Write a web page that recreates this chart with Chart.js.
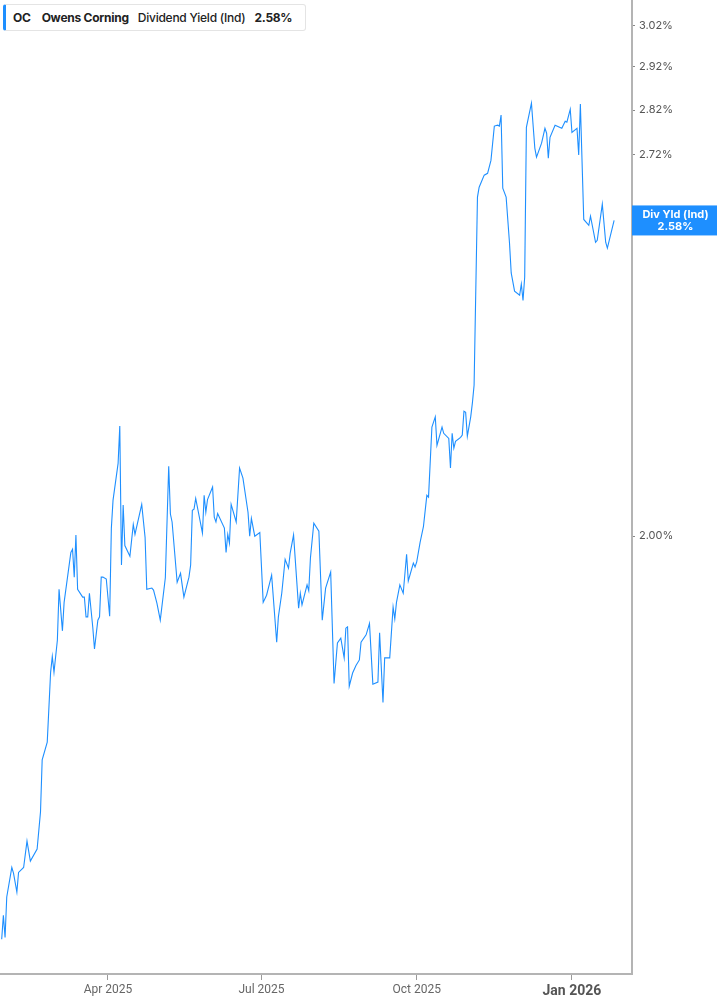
<!DOCTYPE html>
<html>
<head>
<meta charset="utf-8">
<script src="https://cdn.jsdelivr.net/npm/chart.js@4.4.1/dist/chart.umd.min.js"></script>
<style>
  html, body { margin: 0; padding: 0; background: #fff; }
  #wrap { position: relative; width: 717px; height: 1005px; }
  #legendBox {
    position: absolute; left: 3px; top: 4px; height: 25px; width: 292px;
    border: 1px solid #e4e4e4; border-left: 3px solid #1e8fff; border-radius: 3px;
    background: #fff; font-family: Inter, 'Noto Sans', sans-serif; font-size: 12px;
    color: #222; line-height: 25px; white-space: nowrap; box-sizing: content-box;
    padding-left: 7px; letter-spacing: -0.25px;
  }
  #legendBox span { margin-right: 9px; }
</style>
</head>
<body>
<div id="wrap">
  <canvas id="chart" width="717" height="1005"></canvas>
  <div id="legendBox"><span style="font-weight:700">OC</span><span style="font-weight:700;margin-left:2px">Owens Corning</span><span style="font-weight:500">Dividend Yield (Ind)</span><span style="font-weight:700">2.58%</span></div>
</div>
<script>
// days counted from 1 Jan 2025
const days = [27, 28, 29, 30, 33, 34, 36, 37, 40, 42, 44, 48, 50, 51, 54, 56, 57, 58, 60, 61,
  63, 64, 68, 69, 70, 71, 72, 75, 76, 77, 78, 79, 81, 82, 84, 85, 86, 87, 89, 91,
  92, 93, 96, 97, 98, 99, 100, 103, 105, 106, 110, 112, 113, 116, 117, 119, 121, 124, 126, 127,
  128, 131, 133, 135, 138, 139, 140, 141, 142, 146, 147, 148, 149, 152, 153, 154, 155, 159, 160, 161,
  162, 163, 166, 168, 170, 173, 174, 175, 177, 180, 182, 184, 187, 190, 191, 193, 195, 197, 198, 200,
  203, 204, 205, 208, 209, 210, 212, 215, 217, 219, 222, 224, 226, 228, 230, 231, 232, 233, 235, 237,
  239, 240, 243, 245, 247, 250, 251, 253, 254, 257, 259, 260, 261, 263, 265, 267, 268, 271, 272, 273,
  275, 277, 279, 280, 282, 284, 285, 288, 289, 292, 293, 294, 295, 296, 299, 300, 301, 302, 303, 305,
  306, 307, 309, 310, 313, 315, 317, 319, 321, 322, 323, 324, 326, 328, 329, 331, 334, 335, 336, 337,
  338, 341, 343, 344, 347, 349, 350, 351, 352, 355, 359, 361, 362, 364, 365, 368, 369, 370, 372, 375,
  376, 379, 380, 383, 385, 386, 390];

const yieldPct = [1.445, 1.473, 1.447, 1.495, 1.531, 1.524, 1.501, 1.525, 1.531, 1.564, 1.539, 1.554, 1.601, 1.670, 1.694, 1.792, 1.815, 1.792, 1.839, 1.916,
  1.853, 1.896, 1.974, 1.979, 1.935, 2.002, 1.916, 1.904, 1.904, 1.874, 1.874, 1.910, 1.858, 1.826, 1.869, 1.874, 1.935, 1.935, 1.932, 1.875,
  2.013, 2.059, 2.121, 2.186, 1.954, 2.051, 1.985, 1.968, 2.019, 2.003, 2.052, 1.998, 1.916, 1.918, 1.915, 1.895, 1.869, 1.934, 2.116, 2.036,
  2.023, 1.927, 1.941, 1.904, 1.935, 1.954, 2.042, 2.044, 2.062, 2.005, 2.067, 2.039, 2.060, 2.081, 2.031, 2.023, 2.037, 2.013, 1.974, 2.003,
  1.989, 2.052, 2.023, 2.113, 2.096, 2.039, 2.000, 2.029, 2.000, 2.006, 1.896, 1.907, 1.938, 1.836, 1.874, 1.910, 1.963, 1.949, 1.973, 2.002,
  1.887, 1.910, 1.892, 1.923, 1.914, 1.965, 2.021, 2.008, 1.869, 1.918, 1.943, 1.776, 1.835, 1.842, 1.813, 1.857, 1.859, 1.772, 1.791, 1.802,
  1.810, 1.836, 1.847, 1.864, 1.775, 1.778, 1.850, 1.749, 1.813, 1.813, 1.889, 1.871, 1.896, 1.923, 1.910, 1.971, 1.929, 1.957, 1.951, 1.959,
  1.990, 2.016, 2.067, 2.064, 2.184, 2.202, 2.152, 2.184, 2.173, 2.164, 2.113, 2.173, 2.147, 2.159, 2.166, 2.170, 2.212, 2.210, 2.168, 2.202,
  2.227, 2.259, 2.629, 2.650, 2.676, 2.680, 2.708, 2.784, 2.786, 2.784, 2.809, 2.648, 2.629, 2.533, 2.473, 2.437, 2.429, 2.451, 2.419, 2.465,
  2.781, 2.836, 2.735, 2.715, 2.746, 2.779, 2.768, 2.713, 2.759, 2.786, 2.779, 2.795, 2.793, 2.822, 2.770, 2.779, 2.720, 2.834, 2.582, 2.570,
  2.589, 2.535, 2.539, 2.614, 2.535, 2.523, 2.58];

const yTicks = [2.00, 2.72, 2.82, 2.92, 3.02];
const xTickDays = [90, 181, 273, 365];
const xTickLabels = ['Apr 2025', 'Jul 2025', 'Oct 2025', 'Jan 2026'];

const lineColor = '#1e8fff';
const lastValue = yieldPct[yieldPct.length - 1];

// blue value tag on the right axis
const tagPlugin = {
  id: 'valueTag',
  afterDraw(chart) {
    const ctx = chart.ctx;
    const yScale = chart.scales.y;
    const y = yScale.getPixelForValue(lastValue);
    const left = chart.chartArea.right;
    ctx.save();
    ctx.fillStyle = lineColor;
    ctx.fillRect(left, y - 15, chart.width - left, 30);
    ctx.fillStyle = '#fff';
    ctx.font = 'bold 11px Inter, "Noto Sans", sans-serif';
    ctx.textAlign = 'center';
    ctx.textBaseline = 'middle';
    const cx = (left + chart.width) / 2 + 1;
    ctx.fillText('Div Yld (Ind)', cx, y - 6);
    ctx.fillText(lastValue.toFixed(2) + '%', cx, y + 6);
    ctx.restore();
  }
};

function noPadding(scale) {
  scale.paddingTop = 0;
  scale.paddingBottom = 0;
  scale.paddingLeft = 0;
  scale.paddingRight = 0;
}

const ctx = document.getElementById('chart');
new Chart(ctx, {
  type: 'line',
  data: {
    datasets: [{
      label: 'Dividend Yield (Ind)',
      data: days.map((d, i) => ({ x: d, y: yieldPct[i] })),
      borderColor: lineColor,
      borderWidth: 1.1,
      pointRadius: 0,
      tension: 0,
      fill: false
    }]
  },
  options: {
    responsive: false,
    animation: false,
    layout: { padding: 0 },
    plugins: { legend: { display: false }, tooltip: { enabled: false } },
    scales: {
      x: {
        type: 'linear',
        min: 26,
        max: 400.6,
        afterBuildTicks: function(scale) {
          scale.ticks = xTickDays.map(v => ({ value: v }));
        },
        afterFit: function(scale) { scale.height = 31; noPadding(scale); },
        grid: { drawOnChartArea: false, drawTicks: true, tickLength: 6, color: '#9a9a9a' },
        border: { display: true, color: '#b4b4b4', width: 2 },
        ticks: {
          autoSkip: false,
          maxRotation: 0,
          padding: 3,
          color: function(c) { return c.index === 3 ? '#555' : '#666'; },
          font: function(c) {
            return c.index === 3
              ? { family: '"Liberation Sans Narrow", Roboto, sans-serif', size: 14, weight: 'bold' }
              : { family: '"Liberation Sans Narrow", Roboto, sans-serif', size: 12 };
          },
          callback: function(v) {
            const i = xTickDays.indexOf(v);
            return i >= 0 ? xTickLabels[i] : '';
          }
        }
      },
      y: {
        type: 'logarithmic',
        position: 'right',
        min: 1.405,
        max: 3.082,
        afterBuildTicks: function(scale) {
          scale.ticks = yTicks.map(v => ({ value: v }));
        },
        afterFit: function(scale) { scale.width = 85; noPadding(scale); },
        grid: { drawOnChartArea: false, drawTicks: true, tickLength: 3, color: '#888' },
        border: { display: true, color: '#b4b4b4', width: 2 },
        ticks: {
          padding: 4,
          color: '#555',
          font: { family: 'Inter, "Noto Sans", sans-serif', size: 11 },
          callback: function(v) { return Number(v).toFixed(2) + '%'; }
        }
      }
    }
  },
  plugins: [tagPlugin]
});
</script>
</body>
</html>
